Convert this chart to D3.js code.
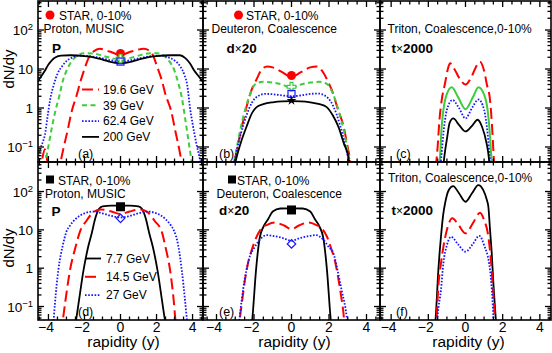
<!DOCTYPE html>
<html><head><meta charset="utf-8">
<script src="https://cdn.jsdelivr.net/npm/d3@7"></script>
<style>
body{margin:0;background:#fff}
svg{display:block}
text{font-family:"Liberation Sans",Arial,Helvetica,sans-serif;fill:#000}
</style>
</head><body><svg id="c" width="552" height="353"></svg>
<script>
// ---------------- data ----------------
const xMajorTicks = [-4, -2, 0, 2, 4];
const yMajorTicks = [0.1, 1, 10, 100];
const legendTop = ["19.6 GeV", "39 GeV", "62.4 GeV", "200 GeV"];
const legendBottom = ["7.7 GeV", "14.5 GeV", "27 GeV"];
const panelLabels = ["(a)", "(b)", "(c)", "(d)", "(e)", "(f)"];

// (a) proton, MUSIC  [rapidity, dN/dy]
const a_19_6 = [[-4.5,0.02],[-4.38,0.04],[-4.2,0.088],[-4.05,0.04],[-3.9,0.02],[-3.6,0.015],[-3.4,0.03],[-3.15,0.1],[-2.95,0.25],[-2.7,0.85],[-2.45,2],[-2.2,5.2],[-2.0,10],[-1.8,18],[-1.5,28],[-1.15,33],[-0.6,28],[0,23],[0.6,28],[1.3,33],[1.7,27],[2.05,11],[2.3,5],[2.5,2.2],[2.8,0.88],[3.05,0.25],[3.3,0.07],[3.5,0.02]];
const a_39 = [[-4.3,0.02],[-4.05,0.08],[-3.8,0.33],[-3.6,0.9],[-3.4,2],[-3.2,5],[-3.0,9],[-2.7,16],[-2.4,22],[-2.0,25.5],[-1.5,25],[-1.0,22],[-0.5,19],[0,17.5],[0.5,19],[1.0,22],[1.5,25],[2.0,25.5],[2.4,22],[2.7,16],[3.0,9],[3.2,4.5],[3.4,1.9],[3.6,0.5],[3.8,0.12],[4.0,0.03]];
const a_62_4 = [[-4.6,0.04],[-4.45,0.09],[-4.3,0.14],[-4.2,0.2],[-4.05,0.6],[-3.9,1.7],[-3.7,4],[-3.5,7.5],[-3.2,12.5],[-3.0,16],[-2.7,19.5],[-2.3,22],[-1.8,21.5],[-1.2,19.5],[-0.6,17],[0,15.5],[0.6,17],[1.2,19.5],[1.8,21.5],[2.3,22],[2.7,19.5],[3.0,16.5],[3.3,12],[3.55,7],[3.7,4],[3.86,1],[4.0,0.4],[4.2,0.13],[4.4,0.05],[4.5,0.03]];
const a_200 = [[-4.6,4.8],[-4.4,6.5],[-4.2,9],[-4.0,13],[-3.8,17],[-3.6,20],[-3.3,22],[-2.8,22.5],[-2.0,21.5],[-1.5,20],[-1.0,17.5],[-0.5,15],[0,14],[0.5,15],[1.0,17.5],[1.5,20],[2.0,21.5],[2.8,22.5],[3.3,22.5],[3.6,19],[3.85,14],[4.1,9],[4.4,6],[4.6,4.5]];
const a_star = [25, 18.5, 15.5];   // red, green, blue at y=0

// (b) deuteron x20
const b_19_6 = [[-3.2,0.02],[-3.05,0.04],[-2.85,0.12],[-2.65,0.33],[-2.35,1.3],[-2.1,3.2],[-1.9,5],[-1.6,9.5],[-1.3,11.6],[-1.0,11],[-0.5,8.3],[0,6.3],[0.5,8.3],[1.0,11],[1.35,11.6],[1.7,8],[2.0,4.2],[2.15,2.9],[2.45,1.0],[2.78,0.33],[2.95,0.13],[3.15,0.035],[3.2,0.02]];
const b_39 = [[-3.15,0.025],[-3.0,0.06],[-2.75,0.25],[-2.48,0.88],[-2.2,2.3],[-1.9,4.2],[-1.5,4.7],[-1.0,4.5],[-0.5,4.0],[0,3.3],[0.5,4.0],[1.0,4.5],[1.5,4.7],[1.9,4.1],[2.2,2.4],[2.5,0.9],[2.8,0.25],[3.05,0.06],[3.2,0.025]];
const b_62_4 = [[-3.1,0.03],[-2.95,0.07],[-2.7,0.22],[-2.4,0.65],[-2.1,1.4],[-1.8,2.0],[-1.4,2.3],[-1.0,2.25],[-0.5,2.1],[0,2.0],[0.5,2.1],[1.0,2.3],[1.4,2.35],[1.8,2.05],[2.1,1.45],[2.4,0.7],[2.7,0.23],[2.95,0.075],[3.15,0.03]];
const b_200 = [[-3.05,0.03],[-2.92,0.056],[-2.7,0.13],[-2.4,0.33],[-2.1,0.75],[-1.86,1.05],[-1.5,1.25],[-1.0,1.4],[-0.5,1.48],[0,1.5],[0.5,1.48],[1.0,1.4],[1.5,1.25],[1.86,1.07],[2.2,0.65],[2.5,0.33],[2.8,0.12],[3.03,0.056],[3.12,0.03]];
const b_star = [6.8, 3.5, 2.3, 1.55];

// (c) triton x2000
const c_19_6 = [[-1.6,0.03],[-1.5,0.1],[-1.4,0.5],[-1.28,1.6],[-1.1,4.3],[-0.95,10],[-0.83,14],[-0.6,10],[-0.3,5.5],[0,4],[0.3,6],[0.55,11],[0.78,15.4],[1.0,9],[1.15,4],[1.32,1.6],[1.42,0.4],[1.5,0.08],[1.55,0.03]];
const c_39 = [[-1.42,0.03],[-1.37,0.056],[-1.3,0.25],[-1.19,0.88],[-1.0,2.3],[-0.74,3.4],[-0.4,1.9],[0,0.93],[0.4,1.9],[0.7,3.4],[1.0,2.2],[1.19,0.88],[1.3,0.25],[1.4,0.05],[1.45,0.03]];
const c_62_4 = [[-1.36,0.03],[-1.3,0.056],[-1.19,0.22],[-1.0,0.9],[-0.7,1.6],[-0.35,1.0],[0,0.54],[0.35,1.0],[0.7,1.65],[1.0,0.9],[1.19,0.22],[1.3,0.056],[1.36,0.03]];
const c_200 = [[-1.2,0.03],[-1.14,0.056],[-1.0,0.16],[-0.85,0.42],[-0.66,0.54],[-0.35,0.37],[0,0.25],[0.35,0.35],[0.65,0.5],[0.9,0.32],[1.14,0.12],[1.25,0.056],[1.3,0.03]];

// (d) proton, low energies
const d_7_7 = [[-2.6,0.02],[-2.45,0.05],[-2.3,0.15],[-2.05,0.9],[-1.8,3.5],[-1.6,8],[-1.4,20],[-1.2,35],[-1.0,41],[-0.5,43],[0,43],[0.5,43],[1.0,41],[1.2,35],[1.4,20],[1.6,8],[1.8,3.5],[2.05,0.9],[2.3,0.15],[2.45,0.05],[2.6,0.02]];
const d_14_5 = [[-3.3,0.02],[-3.2,0.044],[-3.05,0.15],[-2.8,0.9],[-2.5,3.5],[-2.25,9],[-1.9,17],[-1.5,29],[-1.1,34],[-0.5,30],[0,26],[0.5,30],[1.1,34],[1.5,29],[1.9,17],[2.29,9],[2.5,3.5],[2.75,0.9],[2.95,0.15],[3.05,0.044],[3.15,0.02]];
const d_27 = [[-3.8,0.02],[-3.72,0.04],[-3.64,0.12],[-3.45,0.9],[-3.2,4],[-3.0,9],[-2.8,13],[-2.5,19],[-2.0,27],[-1.5,30],[-1.0,27],[-0.5,23],[0,21],[0.5,23],[1.0,27],[1.5,30],[2.0,27],[2.5,19],[2.8,13],[2.95,10],[3.2,4],[3.4,0.9],[3.6,0.12],[3.7,0.04],[3.8,0.02]];
const d_star = [40, 20];   // black square, blue diamond

// (e) deuteron x20, low energies
const e_7_7 = [[-2.15,0.02],[-2.05,0.08],[-1.9,0.8],[-1.7,6],[-1.5,12],[-1.25,19],[-1.0,30],[-0.6,36],[0,36.5],[0.6,36],[1.0,30],[1.25,19],[1.5,12],[1.7,6],[1.9,0.8],[2.05,0.08],[2.15,0.02]];
const e_14_5 = [[-2.85,0.02],[-2.78,0.04],[-2.65,0.12],[-2.48,0.5],[-2.3,1.5],[-2.12,3.0],[-1.9,6],[-1.6,11],[-1.3,13.5],[-0.9,15.5],[-0.4,13],[0,10.5],[0.4,13],[0.9,15.5],[1.3,13.5],[1.6,11],[1.9,6.5],[2.12,3.2],[2.3,1.7],[2.48,0.6],[2.65,0.18],[2.78,0.06],[2.85,0.02]];
const e_27 = [[-2.85,0.02],[-2.75,0.06],[-2.57,0.3],[-2.4,0.9],[-2.2,2.2],[-2.0,3.3],[-1.7,5.5],[-1.3,7.3],[-1.0,7.0],[-0.5,6.2],[0,5.2],[0.5,6.2],[1.0,7.0],[1.3,7.3],[1.7,5.5],[2.0,3.5],[2.23,2.5],[2.45,0.9],[2.67,0.27],[2.94,0.055],[3.0,0.03]];
const e_star = [33, 4.3];

// (f) triton x2000, low energies
const f_7_7 = [[-1.68,0.02],[-1.6,0.055],[-1.46,0.9],[-1.32,6.6],[-1.2,25],[-1.1,49],[-0.9,110],[-0.66,139],[-0.35,90],[0,54],[0.35,90],[0.69,147],[0.95,110],[1.15,60],[1.23,40],[1.32,10],[1.41,2.5],[1.5,0.4],[1.62,0.055],[1.68,0.02]];
const f_14_5 = [[-1.62,0.02],[-1.55,0.055],[-1.45,0.4],[-1.32,1.34],[-1.19,3.6],[-1.0,10],[-0.71,20],[-0.4,14],[0,8.1],[0.4,15],[0.78,28],[1.0,18],[1.23,6.6],[1.41,0.9],[1.5,0.2],[1.58,0.055],[1.64,0.02]];
const f_27 = [[-1.56,0.02],[-1.5,0.055],[-1.32,0.27],[-1.19,1.35],[-1.0,4],[-0.78,6.6],[-0.4,4.2],[0,2.7],[0.4,4.3],[0.74,7],[1.0,4],[1.32,0.9],[1.45,0.15],[1.5,0.055],[1.56,0.02]];

// ---------------- styles ----------------
const RED = "#ff0000", GREEN = "#3ccc3c", BLUE = "#1515ff", BLACK = "#000";
const sRed = {color: RED, dash: "11,5", w: 2};
const sGreen = {color: GREEN, dash: "5,3.5", w: 2};
const sGreenSolid = {color: GREEN, dash: null, w: 2};
const sBlue = {color: BLUE, dash: "1.6,1.6", w: 1.8};
const sBlack = {color: BLACK, dash: null, w: 1.8};

const cols = [[38, 203], [203, 380], [380, 551]];
const rows = [[1, 162], [162, 320]];
const xHalf = [4.58, 4.72, 4.6];
const yDoms = [[Math.pow(10, -1.385), Math.pow(10, 2.744)], [Math.pow(10, -1.352), Math.pow(10, 2.77)]];

const panels = [
  {r:0, c:0, series:[[a_19_6,sRed],[a_39,sGreen],[a_62_4,sBlue],[a_200,sBlack]],
   markers:[{v:a_star[0],t:"circle"},{v:a_star[1],t:"cross"},{v:a_star[2],t:"osquare"}]},
  {r:0, c:1, series:[[b_19_6,sRed],[b_39,sGreen],[b_62_4,sBlue],[b_200,sBlack]],
   markers:[{v:b_star[0],t:"circle"},{v:b_star[1],t:"cross"},{v:b_star[2],t:"osquare"},{v:b_star[3],t:"star"}]},
  {r:0, c:2, series:[[c_19_6,sRed],[c_39,sGreenSolid],[c_62_4,sBlue],[c_200,sBlack]], markers:[]},
  {r:1, c:0, series:[[d_7_7,sBlack],[d_14_5,sRed],[d_27,sBlue]],
   markers:[{v:d_star[0],t:"fsquare"},{v:d_star[1],t:"diamond"}]},
  {r:1, c:1, series:[[e_7_7,sBlack],[e_14_5,sRed],[e_27,sBlue]],
   markers:[{v:e_star[0],t:"fsquare"},{v:e_star[1],t:"diamond"}]},
  {r:1, c:2, series:[[f_7_7,sBlack],[f_14_5,sRed],[f_27,sBlue]], markers:[]}
];

// ---------------- drawing ----------------
const svg = d3.select("#c");
const defs = svg.append("defs");

function minorY(dom) {
  const out = [];
  for (let e = -2; e <= 3; e++) for (let m = 2; m <= 9; m++) {
    const v = m * Math.pow(10, e);
    if (v >= dom[0] && v <= dom[1]) out.push(v);
  }
  return out;
}
function majorY(dom) { return yMajorTicks.filter(v => v >= dom[0] && v <= dom[1]); }
function minorX(h) { const o = []; for (let v = -4.5; v <= 4.5; v += 0.5) if (Math.abs(v) <= h && v % 2 !== 0) o.push(v); return o; }

panels.forEach((p, i) => {
  const [x0, x1] = cols[p.c], [y0, y1] = rows[p.r];
  const x = d3.scaleLinear().domain([-xHalf[p.c], xHalf[p.c]]).range([x0, x1]);
  const y = d3.scaleLog().domain(yDoms[p.r]).range([y1, y0]);
  const g = svg.append("g");
  defs.append("clipPath").attr("id", "clip" + i).append("rect")
    .attr("x", x0).attr("y", y0).attr("width", x1 - x0).attr("height", y1 - y0);

  const line = d3.line().x(d => x(d[0])).y(d => y(Math.max(d[1], 1e-4))).curve(d3.curveMonotoneX);
  const cg = g.append("g").attr("clip-path", `url(#clip${i})`);
  p.series.forEach(([data, st]) => {
    cg.append("path").attr("d", line(data)).attr("fill", "none")
      .attr("stroke", st.color).attr("stroke-width", st.w)
      .attr("stroke-dasharray", st.dash).attr("stroke-linejoin", "round");
  });

  // markers at y = 0
  p.markers.forEach(m => {
    const cx = x(0), cy = y(m.v);
    if (m.t === "circle") cg.append("circle").attr("cx", cx).attr("cy", cy).attr("r", 4.5).attr("fill", RED);
    if (m.t === "cross") cg.append("path").attr("transform", `translate(${cx},${cy})`)
      .attr("d", d3.symbol(d3.symbolCross, 42)()).attr("fill", "#fff").attr("stroke", GREEN).attr("stroke-width", 1.2);
    if (m.t === "osquare") cg.append("rect").attr("x", cx - 3.5).attr("y", cy - 3.5).attr("width", 7).attr("height", 7)
      .attr("fill", "none").attr("stroke", BLUE).attr("stroke-width", 1.2);
    if (m.t === "star") cg.append("path").attr("transform", `translate(${cx},${cy})`)
      .attr("d", d3.symbol(d3.symbolStar, 30)()).attr("fill", BLACK);
    if (m.t === "fsquare") cg.append("rect").attr("x", cx - 4.5).attr("y", cy - 4.5).attr("width", 9).attr("height", 9).attr("fill", BLACK);
    if (m.t === "diamond") cg.append("path").attr("transform", `translate(${cx},${cy}) rotate(45)`)
      .attr("d", "M-3,-3H3V3H-3Z").attr("fill", "none").attr("stroke", BLUE).attr("stroke-width", 1.2);
  });

  // frame
  g.append("rect").attr("x", x0).attr("y", y0).attr("width", x1 - x0).attr("height", y1 - y0)
    .attr("fill", "none").attr("stroke", "#000").attr("stroke-width", 1.6);

  // ticks on all sides, pointing in
  const tk = g.append("g").attr("stroke", "#000").attr("stroke-width", 1.3);
  const xmaj = xMajorTicks.filter(v => Math.abs(v) <= xHalf[p.c]);
  const xmin = minorX(xHalf[p.c]);
  [[xmaj, 6], [xmin, 3.5]].forEach(([vals, L]) => vals.forEach(v => {
    tk.append("line").attr("x1", x(v)).attr("x2", x(v)).attr("y1", y1).attr("y2", y1 - L);
    tk.append("line").attr("x1", x(v)).attr("x2", x(v)).attr("y1", y0).attr("y2", y0 + L);
  }));
  [[majorY(yDoms[p.r]), 6], [minorY(yDoms[p.r]), 3.5]].forEach(([vals, L]) => vals.forEach(v => {
    tk.append("line").attr("y1", y(v)).attr("y2", y(v)).attr("x1", x0).attr("x2", x0 + L);
    tk.append("line").attr("y1", y(v)).attr("y2", y(v)).attr("x1", x1).attr("x2", x1 - L);
  }));

  // x tick labels (bottom row)
  if (p.r === 1) {
    xmaj.forEach(v => {
      g.append("text").attr("x", x(v) + (v < 0 ? -2.5 : 0)).attr("y", 331.5).attr("text-anchor", "middle")
        .attr("font-size", 14).text(v < 0 ? "\u2212" + Math.abs(v) : String(v));
    });
    g.append("text").attr("x", (x0 + x1) / 2 + 3).attr("y", 347).attr("text-anchor", "middle")
      .attr("font-size", 15.5).text("rapidity (y)");
  }
  // y tick labels (left column)
  if (p.c === 0) {
    majorY(yDoms[p.r]).forEach(v => {
      const t = g.append("text").attr("x", 33).attr("y", y(v) + 5).attr("text-anchor", "end").attr("font-size", 13.5);
      if (v === 1) t.text("1");
      else if (v === 10) t.text("10");
      else {
        t.append("tspan").text("10");
        t.append("tspan").attr("dy", -5).attr("font-size", 9.5).text(v === 100 ? "2" : "\u22121");
      }
    });
    g.append("text").attr("transform", `translate(13.5,${p.r === 0 ? 69 : 248}) rotate(-90)`)
      .attr("text-anchor", "middle").attr("font-size", 15).text("dN/dy");
  }
  // panel letter
  g.append("text").attr("x", x0 + (p.c === 0 ? 40 : 16)).attr("y", y1 - 4).attr("font-size", 12.5).text(panelLabels[i]);
});

// ---------------- annotations ----------------
function txt(x, y, s, size, weight) {
  return svg.append("text").attr("x", x).attr("y", y).attr("font-size", size || 12)
    .attr("font-weight", weight || "normal").text(s);
}
function boldTimes(x, y, a, b) {
  const t = svg.append("text").attr("x", x).attr("y", y).attr("font-size", 13.5).attr("font-weight", "bold");
  t.append("tspan").text(a);
  t.append("tspan").attr("font-weight", "normal").attr("font-size", 12).text("\u00d7");
  t.append("tspan").text(b);
}
// (a)
svg.append("circle").attr("cx", 50).attr("cy", 15).attr("r", 4.5).attr("fill", RED);
txt(59, 19.5, "STAR, 0-10%");
txt(43.5, 32.5, "Proton, MUSIC");
txt(52, 53, "P", 13.5, "bold");
// (b)
svg.append("circle").attr("cx", 238.5).attr("cy", 15).attr("r", 4.5).attr("fill", RED);
txt(246, 19.5, "STAR, 0-10%");
txt(211.5, 32.5, "Deuteron, Coalescence");
boldTimes(226.5, 53, "d", "20");
// (c)
txt(387.5, 32.5, "Triton, Coalescence,0-10%");
boldTimes(391.5, 53, "t", "2000");
// (d)
svg.append("rect").attr("x", 46).attr("y", 175.5).attr("width", 8).attr("height", 8).attr("fill", BLACK);
txt(58, 184.5, "STAR, 0-10%");
txt(45, 197.5, "Proton, MUSIC");
txt(51.5, 216, "P", 13.5, "bold");
// (e)
svg.append("rect").attr("x", 228).attr("y", 175.5).attr("width", 8).attr("height", 8).attr("fill", BLACK);
txt(237, 184.5, "STAR, 0-10%");
txt(216.5, 197.5, "Deuteron, Coalescence");
boldTimes(219, 215, "d", "20");
// (f)
txt(388, 181.5, "Triton, Coalescence,0-10%");
boldTimes(391.5, 215, "t", "2000");

// ---------------- legends ----------------
const topStyles = [sRed, sGreen, sBlue, sBlack];
legendTop.forEach((lab, k) => {
  const yy = 89.5 + k * 15.8, st = topStyles[k];
  svg.append("line").attr("x1", 82).attr("x2", 99).attr("y1", yy).attr("y2", yy)
    .attr("stroke", st.color).attr("stroke-width", st.w).attr("stroke-dasharray", st.dash);
  txt(103, yy + 4.3, lab, 12);
});
const botStyles = [sBlack, sRed, sBlue];
legendBottom.forEach((lab, k) => {
  const yy = 258.5 + k * 18.3, st = botStyles[k];
  svg.append("line").attr("x1", 85).attr("x2", 101).attr("y1", yy).attr("y2", yy)
    .attr("stroke", st.color).attr("stroke-width", st.w).attr("stroke-dasharray", st.dash);
  txt(106, yy + 4.3, lab, 12);
});
</script>
</body></html>
